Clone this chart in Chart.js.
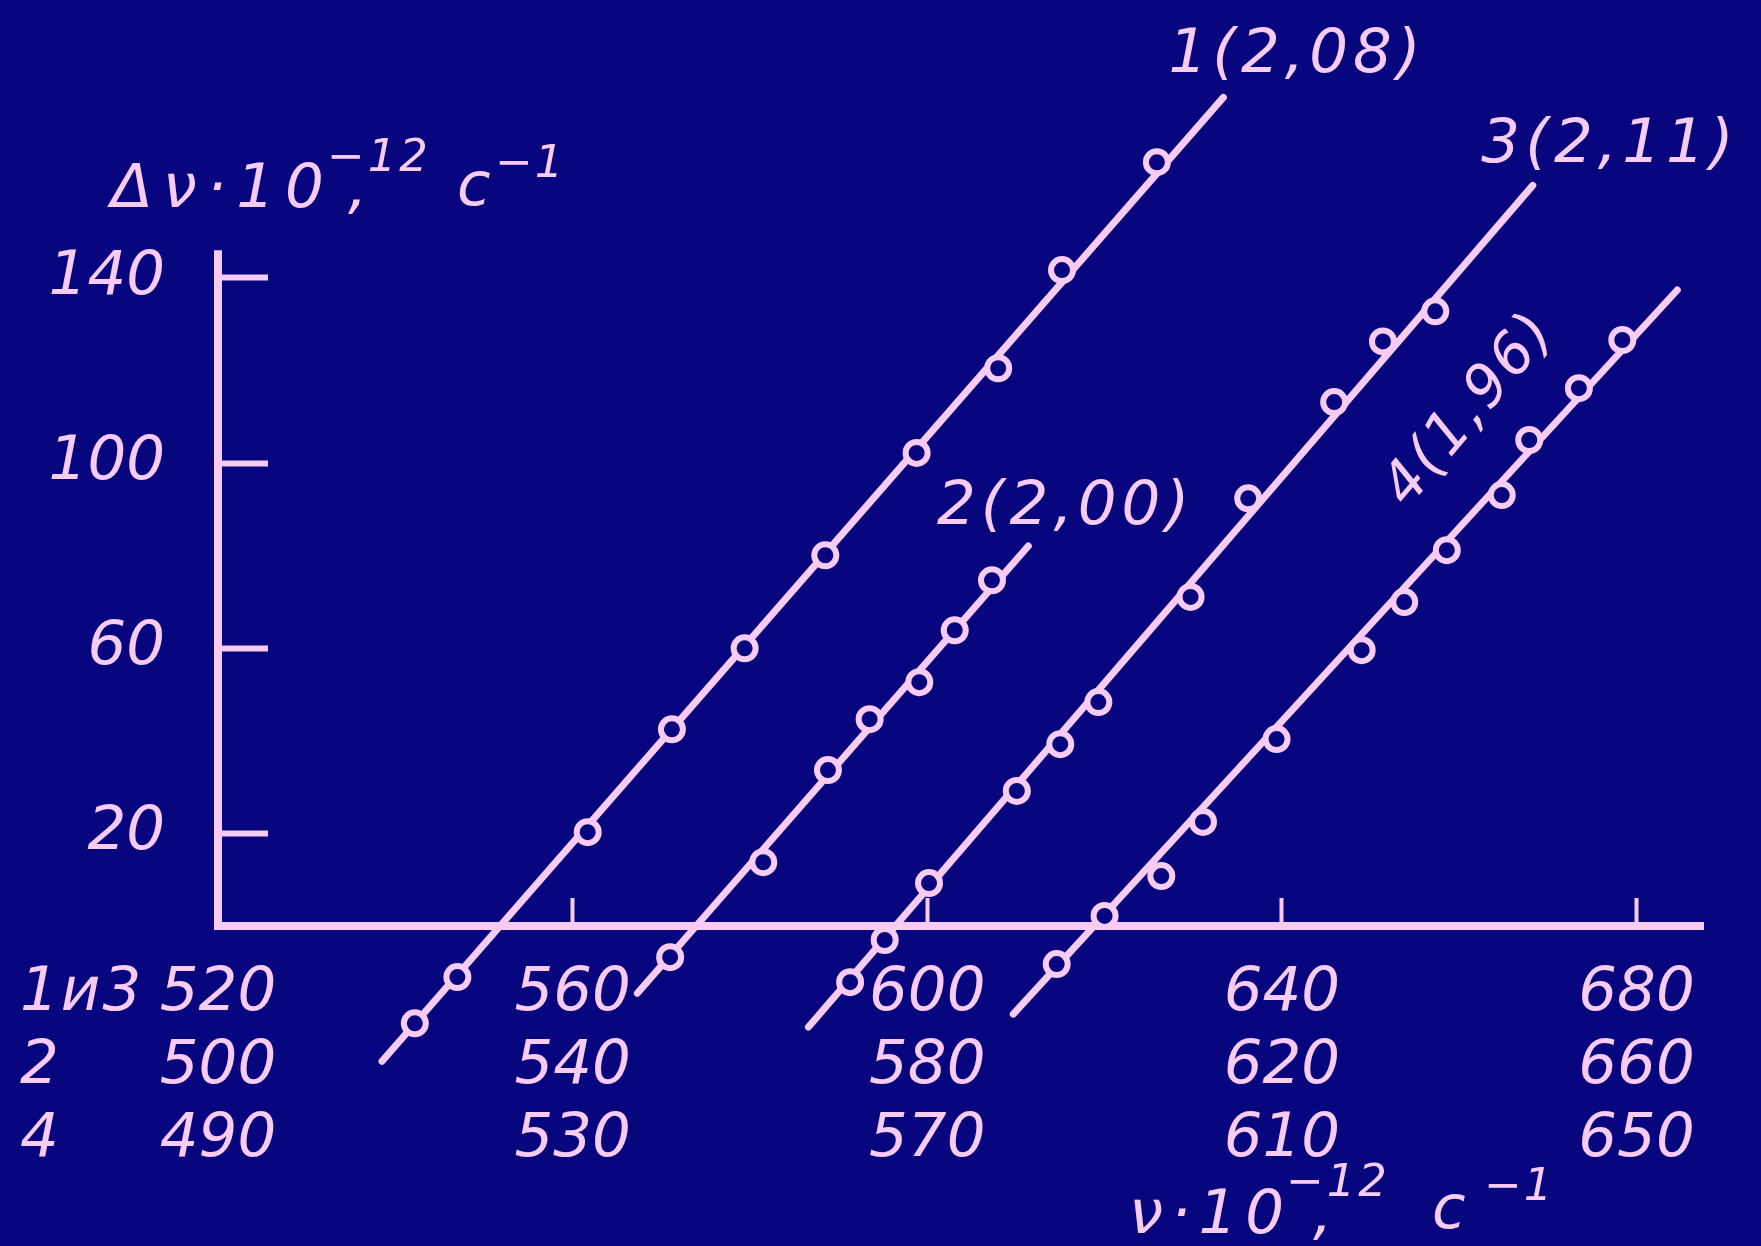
<!DOCTYPE html>
<html>
<head>
<meta charset="utf-8">
<title>Δν от ν</title>
<script src="https://cdn.jsdelivr.net/npm/chart.js@4.4.1/dist/chart.umd.min.js"></script>
<style>
  html, body { margin: 0; padding: 0; background: #07067f; }
  #wrap { width: 1761px; height: 1246px; position: relative; }
</style>
</head>
<body>
<div id="wrap"><canvas id="grafico"></canvas></div>
<script>
// подписи оси ν·10^-12, с^-1: свой ряд для каждой кривой
const ticks13 = ['520', '560', '600', '640', '680'];
const ticks2 = ['500', '540', '580', '620', '660'];
const ticks4 = ['490', '530', '570', '610', '650'];
const rowNames = ['1и3', '2', '4'];
const yTicks = [20, 60, 100, 140];

// кривая 1 (шкала "1и3")
const nu1 = [542.2, 547.0, 561.7, 571.2, 579.4, 588.5, 598.8, 608.0, 615.2, 625.9];
const dnu1 = [-21.0, -11.0, 20.3, 42.5, 60.0, 80.1, 102.2, 120.5, 141.7, 165.0];
const fitNu1 = [538.5, 633.4];
const fitDnu1 = [-29.2, 179.0];

// кривая 2 (шкала "2")
const nu2 = [551.0, 561.5, 568.8, 573.5, 579.1, 583.1, 587.3];
const dnu2 = [-6.7, 13.8, 33.7, 44.7, 52.7, 63.9, 74.7];
const fitNu2 = [547.3, 591.4];
const fitDnu2 = [-14.5, 82.1];

// кривая 3 (шкала "1и3")
const nu3 = [591.3, 595.2, 600.2, 610.1, 615.0, 619.3, 629.7, 636.2, 645.9, 651.4, 657.3];
const dnu3 = [-12.1, -3.0, 9.3, 29.2, 39.3, 48.4, 71.1, 92.4, 113.2, 126.3, 132.8];
const fitNu3 = [586.6, 668.3];
const fitDnu3 = [-21.8, 160.0];

// кривая 4 (шкала "4")
const nu4 = [584.6, 590.0, 596.4, 601.1, 609.4, 619.0, 623.8, 628.6, 634.8, 637.9, 643.5, 648.4];
const dnu4 = [-8.2, 2.2, 10.8, 22.5, 40.4, 59.6, 70.0, 81.2, 93.1, 105.0, 116.2, 126.6];
const fitNu4 = [579.7, 654.6];
const fitDnu4 = [-19.0, 137.4];

const seriesNames = ['1(2,08)', '2(2,00)', '3(2,11)', '4(1,96)'];

const bg = '#07067f';
const ink = '#f8cbf2';
const family = '"DejaVu Sans", sans-serif';

const xTicks = ticks13.map(Number);
const shift2 = xTicks[0] - Number(ticks2[0]);
const shift4 = xTicks[0] - Number(ticks4[0]);
const yAxisTop = 146;

function series(nu, dnu, fitNu, fitDnu, shift) {
  return [
    {
      data: nu.map((v, i) => ({x: v + shift, y: dnu[i]})),
      showLine: false,
      pointRadius: 11,
      pointBorderWidth: 6,
      pointBackgroundColor: bg,
      pointBorderColor: ink,
      order: 0,
      clip: false
    },
    {
      data: fitNu.map((v, i) => ({x: v + shift, y: fitDnu[i]})),
      showLine: true,
      borderColor: ink,
      borderWidth: 7,
      borderCapStyle: 'round',
      pointRadius: 0,
      order: 1,
      clip: false
    }
  ];
}

function put(ctx, text, px, py, size, spacing) {
  ctx.font = 'italic ' + size + 'px ' + family;
  ctx.letterSpacing = (spacing || 0) + 'px';
  ctx.fillText(text, px, py);
}

const xTickLen = -32, xPad = 63.5, yTickLen = -50, fontSize = 61, lineH = 1.2;

const decor = {
  id: 'decor',
  beforeDraw(chart) {
    const ctx = chart.ctx;
    ctx.save();
    ctx.fillStyle = bg;
    ctx.fillRect(0, 0, chart.width, chart.height);
    ctx.restore();
  },
  beforeDatasetsDraw(chart) {
    // ось ординат только от нуля вверх
    const {ctx, chartArea, scales: {y}} = chart;
    ctx.save();
    ctx.strokeStyle = ink;
    ctx.lineWidth = 8;
    ctx.beginPath();
    ctx.moveTo(chartArea.left, y.getPixelForValue(0) + 4);
    ctx.lineTo(chartArea.left, y.getPixelForValue(yAxisTop));
    ctx.stroke();
    ctx.restore();
  },
  afterDraw(chart) {
    const {ctx, scales: {x, y}} = chart;
    ctx.save();
    ctx.fillStyle = ink;
    ctx.textAlign = 'left';
    ctx.textBaseline = 'alphabetic';

    // заголовок оси ординат
    put(ctx, 'Δν·10', 111, 207, fontSize, 10);
    put(ctx, '−12', 327, 171, 45, 3);
    put(ctx, ',', 348, 207, fontSize);
    put(ctx, 'с', 457, 205, fontSize);
    put(ctx, '−1', 495, 177, 45, 2);

    // заголовок оси абсцисс
    put(ctx, 'ν·10', 1129, 1233, fontSize, 8);
    put(ctx, '−12', 1286, 1196, 45, 3);
    put(ctx, ',', 1313, 1233, fontSize);
    put(ctx, 'с', 1432, 1228, fontSize);
    put(ctx, '−1', 1484, 1200, 45, 2);

    // номера кривых у рядов подписей
    ctx.textBaseline = 'middle';
    const rowStep = fontSize * lineH;
    const y0 = y.getPixelForValue(0);
    rowNames.forEach((name, i) => {
      put(ctx, name, 20, y0 + xTickLen + xPad + rowStep * (i + 0.5), fontSize, 2);
    });

    // подписи кривых
    ctx.textBaseline = 'alphabetic';
    put(ctx, seriesNames[0], x.getPixelForValue(627.2), y.getPixelForValue(184.4), fontSize, 5);
    put(ctx, seriesNames[1], x.getPixelForValue(601.1), y.getPixelForValue(86.8), fontSize, 5);
    put(ctx, seriesNames[2], x.getPixelForValue(662.5), y.getPixelForValue(165.0), fontSize, 5);

    ctx.translate(x.getPixelForValue(661.3), y.getPixelForValue(111.4));
    ctx.rotate(-50 * Math.PI / 180);
    ctx.textAlign = 'center';
    ctx.textBaseline = 'middle';
    put(ctx, seriesNames[3], 0, 0, 58, 3);
    ctx.restore();
  }
};

const canvas = document.getElementById('grafico');

new Chart(canvas, {
  type: 'scatter',
  data: {
    datasets: [
      ...series(nu1, dnu1, fitNu1, fitDnu1, 0),
      ...series(nu2, dnu2, fitNu2, fitDnu2, shift2),
      ...series(nu3, dnu3, fitNu3, fitDnu3, 0),
      ...series(nu4, dnu4, fitNu4, fitDnu4, shift4)
    ]
  },
  options: {
    responsive: true,
    maintainAspectRatio: false,
    animation: false,
    events: [],
    layout: { padding: { top: 65, right: 58, bottom: 181, left: 0 } },
    plugins: { legend: { display: false }, tooltip: { enabled: false } },
    scales: {
      x: {
        type: 'linear',
        axis: 'x',
        position: { y: 0 },
        min: 520,
        max: 687.5,
        afterBuildTicks: s => { s.ticks = xTicks.map(v => ({value: v})); },
        afterFit: s => { s.height = 0; s.paddingLeft = 0; s.paddingRight = 0; },
        border: { display: true, color: ink, width: 8 },
        grid: { drawOnChartArea: false, drawTicks: true, tickLength: xTickLen, tickWidth: 4, color: ink },
        ticks: {
          autoSkip: false,
          maxRotation: 0,
          padding: xPad,
          color: ink,
          font: { family: family, size: fontSize, style: 'italic', lineHeight: lineH },
          callback: (v, i) => [ticks13[i], ticks2[i], ticks4[i]]
        }
      },
      y: {
        type: 'linear',
        min: -30,
        max: 186,
        afterBuildTicks: s => { s.ticks = yTicks.map(v => ({value: v})); },
        afterFit: s => { s.width = 218; s.paddingTop = 0; s.paddingBottom = 0; },
        border: { display: false },
        grid: { drawOnChartArea: false, drawTicks: true, tickLength: yTickLen, tickWidth: 6, color: ink },
        ticks: {
          padding: 53 - yTickLen,
          color: ink,
          font: { family: family, size: fontSize, style: 'italic' },
          callback: v => String(v)
        }
      }
    }
  },
  plugins: [decor]
});
</script>
</body>
</html>
